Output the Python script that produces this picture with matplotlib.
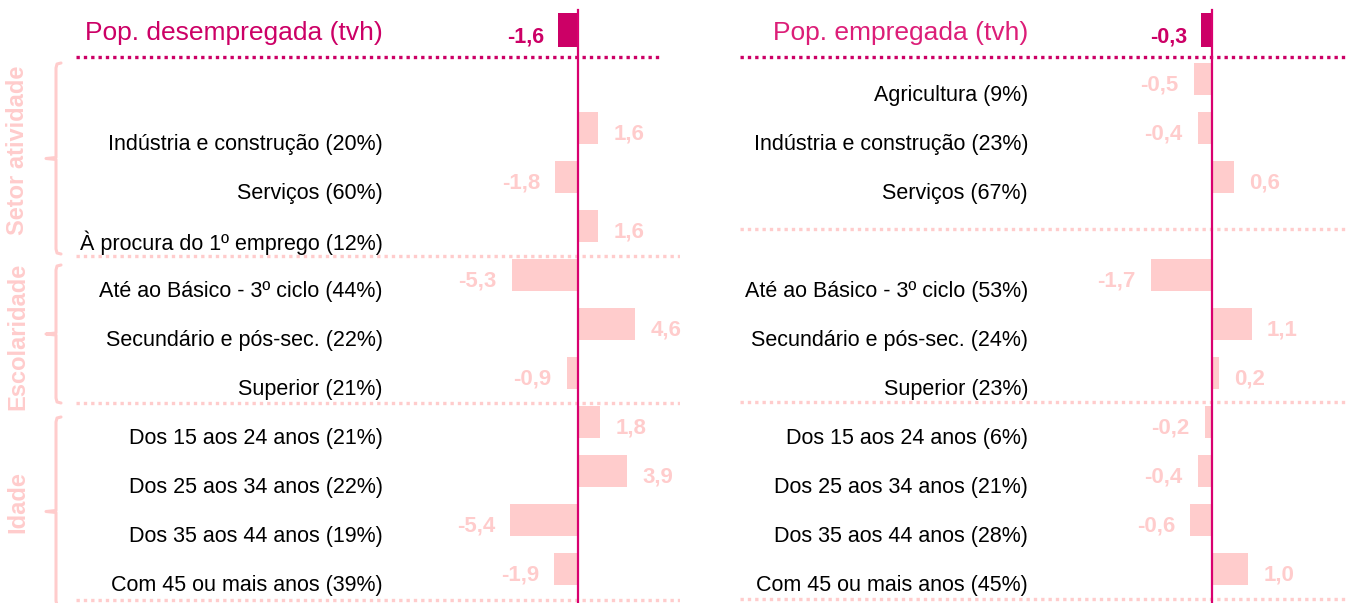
import numpy as np
import matplotlib
matplotlib.use('Agg')
import matplotlib.pyplot as plt

plt.rcParams['font.family'] = ['Liberation Sans', 'DejaVu Sans']

# data
rotulos_desemp = ['', 'Indústria e construção (20%)', 'Serviços (60%)',
                  'À procura do 1º emprego (12%)',
                  'Até ao Básico - 3º ciclo (44%)', 'Secundário e pós-sec. (22%)',
                  'Superior (21%)',
                  'Dos 15 aos 24 anos (21%)', 'Dos 25 aos 34 anos (22%)',
                  'Dos 35 aos 44 anos (19%)', 'Com 45 ou mais anos (39%)']
valores_desemp = [np.nan, 1.6, -1.8, 1.6, -5.3, 4.6, -0.9, 1.8, 3.9, -5.4, -1.9]
total_desemp = -1.6

rotulos_emp = ['Agricultura (9%)', 'Indústria e construção (23%)', 'Serviços (67%)',
               '',
               'Até ao Básico - 3º ciclo (53%)', 'Secundário e pós-sec. (24%)',
               'Superior (23%)',
               'Dos 15 aos 24 anos (6%)', 'Dos 25 aos 34 anos (21%)',
               'Dos 35 aos 44 anos (28%)', 'Com 45 ou mais anos (45%)']
valores_emp = [-0.5, -0.4, 0.6, np.nan, -1.7, 1.1, 0.2, -0.2, -0.4, -0.6, 1.0]
total_emp = -0.3

grupos = ['Setor atividade', 'Escolaridade', 'Idade']

PINK = '#FFCCCC'
MAG = '#CC0066'
ZERO = '#D9006F'

W, H = 1347, 603
ROW0, STEP = 30, 49


def row_of(py):
    return (py - ROW0) / STEP


def fmt(v):
    return ('%.1f' % v).replace('.', ',')


fig = plt.figure(figsize=(W / 100, H / 100), dpi=100)


def panel(x0, x1, zero, scale, title, title_color, total, labels, values,
          label_px, head_line, seps):
    ax = fig.add_axes([x0 / W, 0, (x1 - x0) / W, 1])
    ax.set_xlim((x0 - zero) / scale, (x1 - zero) / scale)
    ax.set_ylim(row_of(H), row_of(0))
    ax.axis('off')
    px = lambda p: (p - zero) / scale

    y = np.arange(1, len(values) + 1)
    ax.barh(y, values, height=32 / STEP, color=PINK, zorder=2)
    ax.barh(0, total, height=34 / STEP, color=MAG, zorder=2)
    ax.plot([0, 0], [row_of(10), row_of(H)], color=ZERO, lw=1.6, zorder=3)

    for yi, v, lab in zip(y, values, labels):
        ax.text(px(label_px), yi + 17 / STEP, lab, ha='right', va='center',
                fontsize=15.5, color='black')
        if np.isnan(v):
            continue
        off = 11 if v >= 0 else -11
        ax.annotate(fmt(v), (v, yi), xytext=(off, -4), textcoords='offset points',
                    ha='left' if v >= 0 else 'right', va='center',
                    fontsize=16, fontweight='bold', color=PINK)

    ax.text(px(label_px), row_of(33), title, ha='right', va='center',
            fontsize=19, color=title_color)
    ax.annotate(fmt(total), (total, 0), xytext=(-10, -5), textcoords='offset points',
                ha='right', va='center', fontsize=15.5, fontweight='bold', color=MAG)

    ax.plot([px(head_line[0]), px(head_line[1])], [row_of(57)] * 2, color=MAG,
            lw=2.4, ls=(0, (1, 1.2)), zorder=1)
    for (a, b, yy) in seps:
        ax.plot([px(a), px(b)], [row_of(yy)] * 2, color=PINK,
                lw=2.4, ls=(0, (1, 1.2)), zorder=1)
    return ax, px


axl, pxl = panel(0, 680, 578, 12.5, 'Pop. desempregada (tvh)', MAG,
                 total_desemp, rotulos_desemp, valores_desemp, 383,
                 (76, 660), [(76, 680, 256), (76, 680, 403), (76, 680, 600)])

axr, pxr = panel(680, W, 1212, 36, 'Pop. empregada (tvh)', '#DC1E78',
                 total_emp, rotulos_emp, valores_emp, 1028,
                 (740, W), [(740, W, 229), (740, W, 402), (740, W, 599)])

# braces and group titles on the left
chaves = [(63, 254), (265, 403), (417, 606)]
centros = [150, 336, 502]
bx = 56
for (top, bot), g, cy in zip(chaves, grupos, centros):
    mid = (top + bot) / 2
    xs = [bx + 5, bx + 1, bx, bx, bx - 10, bx, bx, bx + 1, bx + 5]
    ys = [top, top + 1, top + 5, mid - 1, mid, mid + 1, bot - 5, bot - 1, bot]
    axl.plot([pxl(v) for v in xs], [row_of(v) for v in ys], color=PINK, lw=2.2,
             solid_joinstyle='round', solid_capstyle='round', zorder=1)
    axl.text(pxl(18), row_of(cy), g, rotation=90, ha='center', va='center',
             fontsize=17, fontweight='bold', color=PINK)

fig.savefig('out.png', dpi=100)
